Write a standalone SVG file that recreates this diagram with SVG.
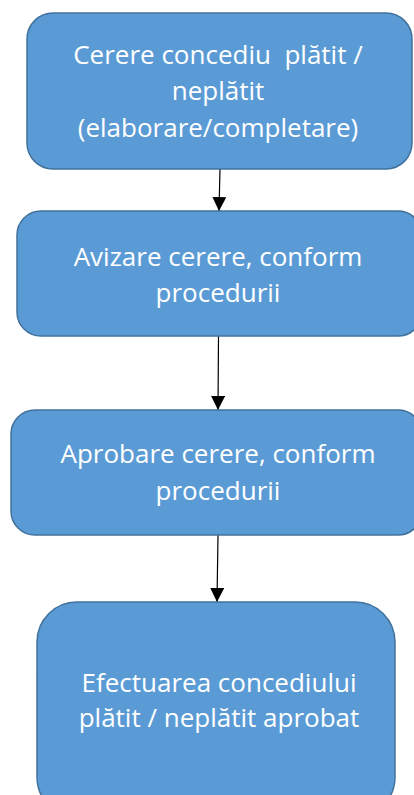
<svg xmlns="http://www.w3.org/2000/svg" width="414" height="795" viewBox="0 0 414 795">
  <defs>
    <marker id="arrowhead" viewBox="0 0 14 14" refX="14" refY="7" markerWidth="14" markerHeight="14" markerUnits="userSpaceOnUse" orient="auto">
      <path d="M0,0 L14,7 L0,14 Z" fill="#000"/>
    </marker>
  </defs>
  <style>
    .box { fill: #5B9BD5; stroke: #41719C; stroke-width: 1.5; }
    .label { font-family: "Open Sans", "Noto Sans", sans-serif; font-size: 26px; fill: #ffffff; text-anchor: middle; }
    .conn { stroke: #000; stroke-width: 1.2; fill: none; marker-end: url(#arrowhead); }
  </style>
  <rect width="414" height="795" fill="#ffffff"/>

  <g id="connectors">
    <line class="conn" x1="220" y1="169" x2="219" y2="211"/>
    <line class="conn" x1="218.5" y1="336" x2="218" y2="410"/>
    <line class="conn" x1="218" y1="535" x2="217" y2="602"/>
  </g>

  <g id="node-cerere">
    <rect class="box" x="27" y="13" width="385" height="156" rx="26"/>
    <text class="label" x="218" y="64" xml:space="preserve">Cerere concediu  plătit /</text>
    <text class="label" x="218" y="100">neplătit</text>
    <text class="label" x="218" y="137">(elaborare/completare)</text>
  </g>

  <g id="node-avizare">
    <rect class="box" x="17" y="211" width="405" height="125" rx="24"/>
    <text class="label" x="218" y="266">Avizare cerere, conform</text>
    <text class="label" x="218" y="302">procedurii</text>
  </g>

  <g id="node-aprobare">
    <rect class="box" x="11" y="410" width="411" height="125" rx="24"/>
    <text class="label" x="218" y="463">Aprobare cerere, conform</text>
    <text class="label" x="218" y="500">procedurii</text>
  </g>

  <g id="node-efectuare">
    <rect class="box" x="37" y="602" width="358" height="215" rx="40"/>
    <text class="label" x="219" y="692">Efectuarea concediului</text>
    <text class="label" x="219" y="727">plătit / neplătit aprobat</text>
  </g>
</svg>
